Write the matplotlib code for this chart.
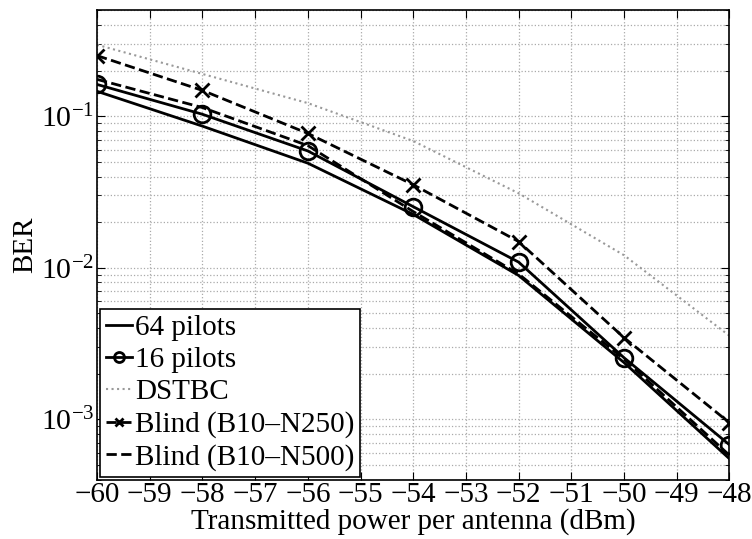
import matplotlib
matplotlib.use("Agg")
import matplotlib.pyplot as plt
from matplotlib.ticker import LogLocator, NullFormatter

plt.rcParams["font.family"] = ["Liberation Serif", "DejaVu Serif"]
plt.rcParams["mathtext.fontset"] = "stix"
plt.rcParams["font.size"] = 21

power = [-60, -58, -56, -54, -52, -50, -48]
ber_64 = [0.146, 0.086, 0.049, 0.0225, 0.0089, 0.00237, 0.00055]
ber_16 = [0.162, 0.103, 0.059, 0.0253, 0.0109, 0.00255, 0.00068]
ber_dstbc = [0.296, 0.19, 0.122, 0.0686, 0.031, 0.0121, 0.00356]
ber_n250 = [0.251, 0.148, 0.077, 0.0353, 0.0149, 0.00346, 0.00095]
ber_n500 = [0.175, 0.114, 0.064, 0.0235, 0.0091, 0.0025, 0.00058]

fig, ax = plt.subplots(figsize=(7.52, 5.39), dpi=100)
fig.subplots_adjust(left=0.129, right=0.97, top=0.981, bottom=0.11)

ax.semilogy(power, ber_64, "-", color="black", lw=2, label="64 pilots")
ax.semilogy(power, ber_16, "-o", color="black", lw=2, ms=12, mfc="none", mew=2,
            label="16 pilots")
ax.semilogy(power, ber_dstbc, ":", color="#999999", lw=1.5, label="DSTBC")
ax.semilogy(power, ber_n250, "--x", color="black", lw=2, ms=10, mew=2,
            label="Blind (B10\u2013N250)")
ax.semilogy(power, ber_n500, "--", color="black", lw=2, label="Blind (B10\u2013N500)")

ax.set_xlim(-60, -48)
ax.set_ylim(4e-4, 0.5)
ax.set_xticks(range(-60, -47))
ax.set_xticklabels(["\u2212%d" % -v for v in range(-60, -47)], fontsize=21)
ax.yaxis.set_minor_locator(LogLocator(base=10, subs=range(2, 10)))
ax.yaxis.set_minor_formatter(NullFormatter())
ax.tick_params(axis="y", labelsize=21.5, pad=2)
ax.tick_params(axis="x", pad=2)

ax.grid(True, which="major", ls=":", color="#aaaaaa", lw=0.9)
ax.grid(True, which="minor", axis="y", ls=":", color="#aaaaaa", lw=0.9)
ax.tick_params(which="both", direction="in", top=True, right=True)
ax.tick_params(which="major", length=6)
ax.tick_params(which="minor", length=3)
for s in ax.spines.values():
    s.set_linewidth(1.2)

ax.set_xlabel("Transmitted power per antenna (dBm)", labelpad=0)
ax.set_ylabel("BER", labelpad=2)

leg = ax.legend(loc="lower left", fancybox=False, framealpha=1, edgecolor="black",
                handlelength=0.9, handletextpad=0.1, borderpad=0.2, labelspacing=0.2,
                borderaxespad=0.1, markerscale=0.6)
leg.get_frame().set_linewidth(1.2)

fig.savefig("out.png", dpi=100)
